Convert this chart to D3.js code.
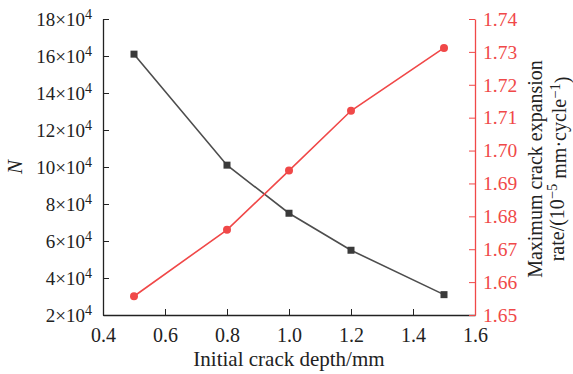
<!DOCTYPE html>
<html>
<head>
<script src="https://d3js.org/d3.v7.min.js"></script>
<style>
  body {margin: 0; background: #fff;}
  svg text {font-family: "Liberation Serif", "Times New Roman", serif;}
  .axis .domain {stroke-width: 1.3;}
</style>
</head>
<body>
<svg id="chart" width="573" height="374"></svg>
<script>
// data
var depth = [0.5, 0.8, 1.0, 1.2, 1.5];            // initial crack depth, mm
var cycles = [16.1, 10.1, 7.5, 5.5, 3.1];          // N, in units of 10^4
var rate = [1.6557, 1.6759, 1.6939, 1.7121, 1.7312]; // max crack expansion rate, 10^-5 mm/cycle
var xTicks = [0.4, 0.6, 0.8, 1.0, 1.2, 1.4, 1.6];
var nTicks = [2, 4, 6, 8, 10, 12, 14, 16, 18];
var rateTicks = [1.65, 1.66, 1.67, 1.68, 1.69, 1.70, 1.71, 1.72, 1.73, 1.74];

var black = "#4d4d4d", red = "#f04848";

var svg = d3.select("#chart"),
    margin = {top: 19, right: 98, bottom: 59, left: 103},
    width = +svg.attr("width") - margin.left - margin.right,
    height = +svg.attr("height") - margin.top - margin.bottom,
    g = svg.append("g").attr("transform", "translate(" + margin.left + "," + margin.top + ")");

var x = d3.scaleLinear().domain([0.4, 1.6]).range([0, width]);
var yN = d3.scaleLinear().domain([2, 18]).range([height, 0]);
var yR = d3.scaleLinear().domain([1.65, 1.74]).range([height, 0]);

// bottom axis
var gx = g.append("g")
    .attr("class", "axis")
    .attr("transform", "translate(0," + height + ")")
    .call(d3.axisBottom(x).tickValues(xTicks).tickFormat(d3.format(".1f"))
        .tickSizeInner(-6).tickSizeOuter(0).tickPadding(13));
gx.selectAll("line, path").attr("stroke", "#222");
gx.selectAll("text").attr("font-size", 20).attr("fill", "#222");

// left axis (N)
var gl = g.append("g")
    .attr("class", "axis")
    .call(d3.axisLeft(yN).tickValues(nTicks).tickSizeInner(-6).tickSizeOuter(0).tickPadding(11));
gl.selectAll("line, path").attr("stroke", "#222");
gl.selectAll("text").attr("font-size", 19).attr("fill", "#222")
    .each(function(d) {
        var t = d3.select(this).text(null);
        t.append("tspan").text(d + "\u00d710");
        t.append("tspan").attr("dy", "-0.45em").attr("font-size", 14).text("4");
    });

// right axis (rate)
var gr = g.append("g")
    .attr("class", "axis")
    .attr("transform", "translate(" + width + ",0)")
    .call(d3.axisRight(yR).tickValues(rateTicks).tickFormat(d3.format(".2f"))
        .tickSizeInner(-6).tickSizeOuter(0).tickPadding(8));
gr.selectAll("line, path").attr("stroke", red);
gr.selectAll("text").attr("font-size", 19.5).attr("fill", red);

// axis titles
g.append("text")
    .attr("x", width / 2).attr("y", height + 51)
    .attr("text-anchor", "middle").attr("font-size", 21).attr("fill", "#222")
    .text("Initial crack depth/mm");

svg.append("text")
    .attr("transform", "translate(22,167) rotate(-90)")
    .attr("text-anchor", "middle").attr("font-size", 21).attr("font-style", "italic").attr("fill", "#222")
    .text("N");

var rt = svg.append("text")
    .attr("transform", "translate(542,169) rotate(-90)")
    .attr("text-anchor", "middle").attr("font-size", 20).attr("fill", "#222");
rt.append("tspan").attr("x", 0).attr("y", 0).text("Maximum crack expansion");
var l2 = rt.append("tspan").attr("x", 0).attr("y", 22);
l2.append("tspan").text("rate/(10");
l2.append("tspan").attr("dy", "-0.45em").attr("font-size", 14.5).text("\u22125");
l2.append("tspan").attr("dy", "0.45em").text(" mm\u00b7cycle");
l2.append("tspan").attr("dy", "-0.45em").attr("font-size", 14.5).text("\u22121");
l2.append("tspan").attr("dy", "0.45em").text(")");

// N series
var lineN = d3.line().x(function(d, i) { return x(depth[i]); }).y(function(d) { return yN(d); });
g.append("path").datum(cycles)
    .attr("fill", "none").attr("stroke", black).attr("stroke-width", 1.6)
    .attr("d", lineN);
g.selectAll(".sq").data(cycles).enter().append("rect")
    .attr("class", "sq")
    .attr("x", function(d, i) { return x(depth[i]) - 3.5; })
    .attr("y", function(d) { return yN(d) - 3.5; })
    .attr("width", 7).attr("height", 7)
    .attr("fill", "#3a3a3a");

// rate series
var lineR = d3.line().x(function(d, i) { return x(depth[i]); }).y(function(d) { return yR(d); });
g.append("path").datum(rate)
    .attr("fill", "none").attr("stroke", red).attr("stroke-width", 1.6)
    .attr("d", lineR);
g.selectAll(".dot").data(rate).enter().append("circle")
    .attr("class", "dot")
    .attr("cx", function(d, i) { return x(depth[i]); })
    .attr("cy", function(d) { return yR(d); })
    .attr("r", 4)
    .attr("fill", red);
</script>
</body>
</html>
